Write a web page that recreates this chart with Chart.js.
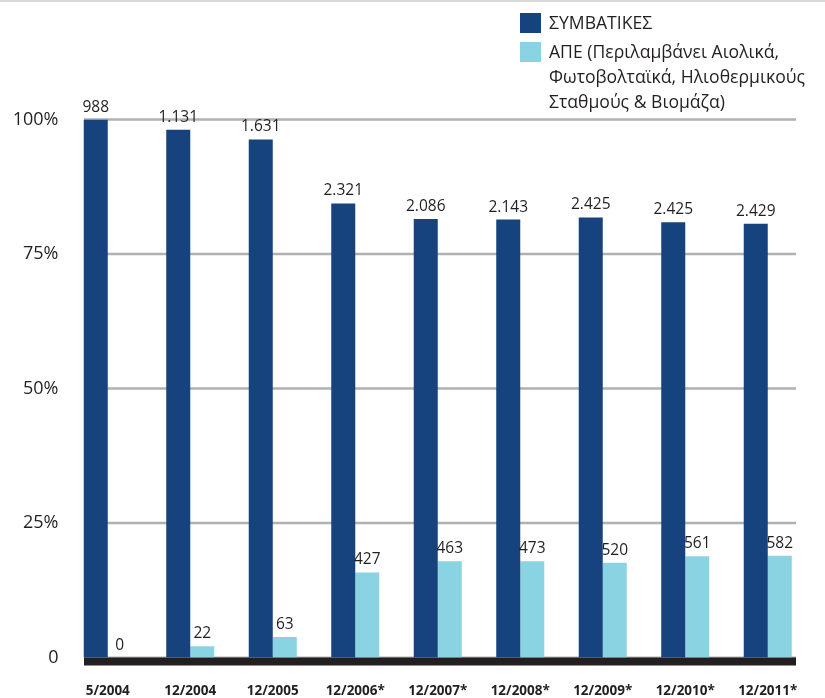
<!DOCTYPE html>
<html>
<head>
<meta charset="utf-8">
<script src="https://cdn.jsdelivr.net/npm/chart.js@4.4.1/dist/chart.umd.min.js"></script>
<style>
  body { margin: 0; background: #fff; font-family: 'Open Sans', sans-serif; }
  #wrap { position: relative; width: 825px; height: 698px; }
  #legend { position: absolute; left: 520px; top: 10px; color: #231f20; font-size: 17.6px; line-height: 25px; }
  .item { position: relative; padding-left: 29px; }
  .box { position: absolute; left: 0; top: 3px; width: 21px; height: 20px; }
</style>
</head>
<body>
<div id="wrap">
  <canvas id="chart" width="825" height="698"></canvas>
  <div id="legend"></div>
</div>
<script>
const periods = ['5/2004', '12/2004', '12/2005', '12/2006*', '12/2007*', '12/2008*', '12/2009*', '12/2010*', '12/2011*'];
const seriesNames = ['ΣΥΜΒΑΤΙΚΕΣ', 'ΑΠΕ (Περιλαμβάνει Αιολικά,\nΦωτοβολταϊκά, Ηλιοθερμικούς\nΣταθμούς & Βιομάζα)'];
// share of total (%)
const conventionalShare = [100, 98.1, 96.3, 84.4, 81.5, 81.4, 81.8, 80.9, 80.6];
const resShare = [0, 2.1, 3.8, 15.8, 17.9, 17.9, 17.6, 18.8, 18.9];
// counts printed above the bars
const conventionalCount = [988, 1131, 1631, 2321, 2086, 2143, 2425, 2425, 2429];
const resCount = [0, 22, 63, 427, 463, 473, 520, 561, 582];
const yTicks = [0, 25, 50, 75, 100];

const colors = ['#16427e', '#8ad3e3'];
const ink = '#231f20';

function fmt(n) {
  return String(n).replace(/\B(?=(\d{3})+(?!\d))/g, '.');
}

// legend
const legend = document.getElementById('legend');
seriesNames.forEach((name, i) => {
  const d = document.createElement('div');
  d.className = 'item';
  if (i > 0) d.style.marginTop = '4px';
  d.innerHTML = `<span class="box" style="background:${colors[i]}"></span>` + name.split('\n').join('<br>');
  legend.appendChild(d);
});

const decor = {
  id: 'decor',
  beforeDatasetsDraw(chart) {
    const { ctx, scales: { y } } = chart;
    ctx.save();
    ctx.strokeStyle = '#dadada';
    ctx.lineWidth = 2;
    ctx.beginPath(); ctx.moveTo(0, 1); ctx.lineTo(825, 1); ctx.stroke();
    ctx.strokeStyle = '#b1b1b1';
    ctx.lineWidth = 2.5;
    yTicks.filter(v => v > 0).forEach(v => {
      const py = y.getPixelForValue(v);
      ctx.beginPath(); ctx.moveTo(84, py); ctx.lineTo(796, py); ctx.stroke();
    });
    const p0 = y.getPixelForValue(0);
    ctx.fillStyle = '#b1b1b1';
    ctx.fillRect(84, p0 - 1, 712, 2);
    ctx.fillStyle = ink;
    ctx.fillRect(84, p0, 712, 8);
    ctx.restore();
  },
  afterDatasetsDraw(chart) {
    const { ctx } = chart;
    const counts = [conventionalCount, resCount];
    ctx.save();
    ctx.fillStyle = ink;
    ctx.font = '15.5px "Open Sans"';
    ctx.textAlign = 'center';
    ctx.textBaseline = 'alphabetic';
    chart.data.datasets.forEach((ds, di) => {
      chart.getDatasetMeta(di).data.forEach((bar, i) => {
        ctx.fillText(fmt(counts[di][i]), bar.x, bar.y - 8);
      });
    });
    ctx.restore();
  }
};

new Chart(document.getElementById('chart'), {
  type: 'bar',
  data: {
    labels: periods,
    datasets: [
      { label: seriesNames[0], data: conventionalShare, backgroundColor: colors[0] },
      { label: seriesNames[1], data: resShare, backgroundColor: colors[1] }
    ]
  },
  options: {
    responsive: false,
    animation: false,
    layout: { padding: { top: 119.5, right: 16, left: 0, bottom: 0 } },
    datasets: { bar: { categoryPercentage: 0.582, barPercentage: 1 } },
    plugins: { legend: { display: false }, tooltip: { enabled: false } },
    scales: {
      x: {
        grid: { display: false, drawTicks: false },
        border: { display: false },
        afterFit: s => { s.height = 40.5; },
        ticks: { color: ink, padding: 26, maxRotation: 0, font: { family: 'Open Sans', size: 13.5, weight: 'bold' } }
      },
      y: {
        min: 0, max: 100,
        afterFit: s => { s.width = 66.5; },
        afterBuildTicks: s => { s.ticks = yTicks.map(v => ({ value: v })); },
        grid: { display: false, drawTicks: false },
        border: { display: false },
        ticks: {
          color: ink, padding: 8,
          font: { family: 'Open Sans', size: 18 },
          callback: v => v === 0 ? '0' : v + '%'
        }
      }
    }
  },
  plugins: [decor]
});
</script>
</body>
</html>
